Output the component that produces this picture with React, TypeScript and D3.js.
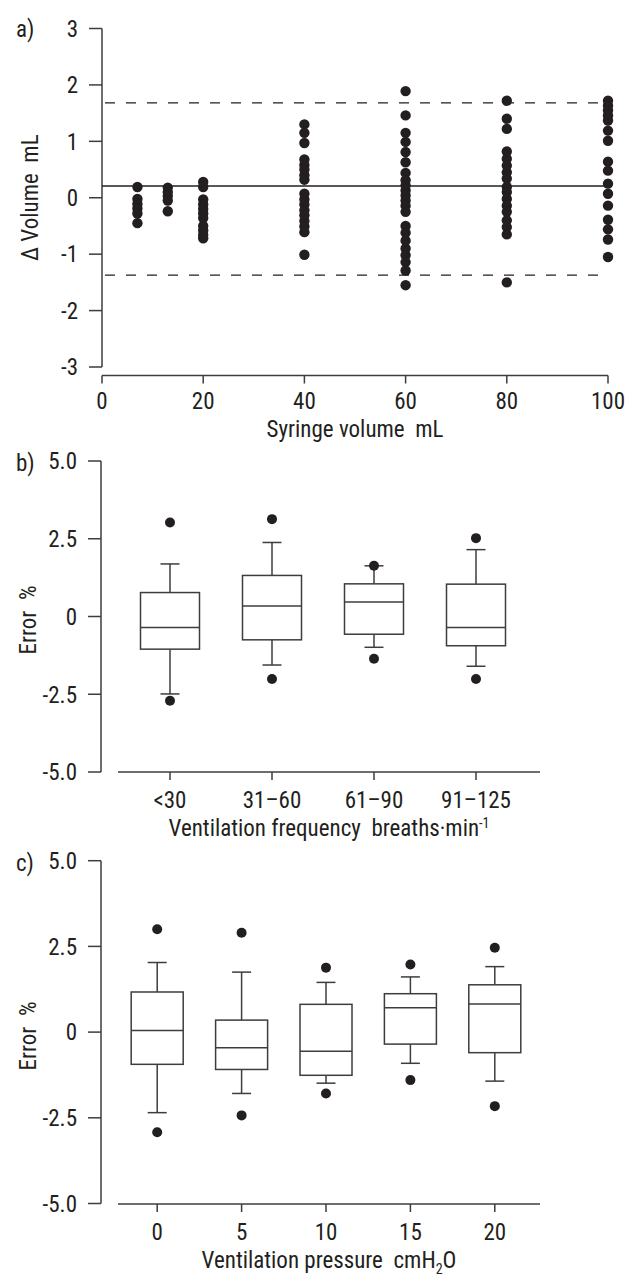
import * as d3 from 'd3'

// panel a: Bland-Altman style differences per syringe volume
const syringeVolumes = [7, 13, 20, 40, 60, 80, 100]
const dv7 = [0.19, -0.02, -0.11, -0.19, -0.28, -0.45]
const dv13 = [0.18, 0.10, 0.03, -0.05, -0.24]
const dv20 = [0.28, 0.19, -0.03, -0.12, -0.20, -0.28, -0.36, -0.50, -0.58, -0.66, -0.72]
const dv40 = [1.30, 1.15, 0.97, 0.68, 0.58, 0.50, 0.40, 0.32, 0.07, -0.03, -0.12, -0.22, -0.31, -0.41, -0.51, -0.61, -1.01]
const dv60 = [1.89, 1.46, 1.15, 0.99, 0.81, 0.63, 0.44, 0.31, 0.22, 0.13, 0.04, -0.05, -0.14, -0.25, -0.50, -0.62, -0.76, -0.90, -1.02, -1.14, -1.29, -1.55]
const dv80 = [1.72, 1.40, 1.22, 0.82, 0.69, 0.57, 0.45, 0.34, 0.19, 0.10, -0.02, -0.14, -0.25, -0.40, -0.52, -0.65, -1.50]
const dv100 = [1.72, 1.63, 1.55, 1.46, 1.37, 1.19, 1.01, 0.64, 0.48, 0.25, 0.07, -0.14, -0.39, -0.56, -0.74, -1.05]
const deltaSeries = [dv7, dv13, dv20, dv40, dv60, dv80, dv100]
const meanDiff = 0.21
const upperLimit = 1.68
const lowerLimit = -1.37
const volumeTicks = [0, 20, 40, 60, 80, 100]
const deltaTicks = [-3, -2, -1, 0, 1, 2, 3]

// panel b: error by ventilation frequency
const freqCategories = ['<30', '31–60', '61–90', '91–125']
const freqQ1 = [-1.05, -0.75, -0.57, -0.94]
const freqMedian = [-0.35, 0.34, 0.47, -0.35]
const freqQ3 = [0.77, 1.32, 1.05, 1.04]
const freqWhiskerLow = [-2.49, -1.56, -0.99, -1.60]
const freqWhiskerHigh = [1.69, 2.38, 1.63, 2.15]
const freqOutlierLow = [-2.71, -2.01, -1.36, -2.01]
const freqOutlierHigh = [3.02, 3.13, 1.63, 2.52]

// panel c: error by ventilation pressure
const pressureCategories = ['0', '5', '10', '15', '20']
const pressQ1 = [-0.94, -1.09, -1.26, -0.35, -0.60]
const pressMedian = [0.05, -0.46, -0.56, 0.71, 0.82]
const pressQ3 = [1.17, 0.35, 0.81, 1.12, 1.38]
const pressWhiskerLow = [-2.35, -1.79, -1.49, -0.91, -1.43]
const pressWhiskerHigh = [2.03, 1.75, 1.45, 1.61, 1.91]
const pressOutlierLow = [-2.92, -2.43, -1.79, -1.40, -2.16]
const pressOutlierHigh = [3.00, 2.90, 1.88, 1.97, 2.46]

const errorTicks = [-5, -2.5, 0, 2.5, 5]
const errorTickLabels = ['-5.0', '-2.5', '0', '2.5', '5.0']

const FONT = "'Liberation Sans Narrow', 'Arial Narrow', 'Roboto Condensed', 'Liberation Sans', sans-serif"
const INK = '#231f20'
const LINE = '#3d3d3d'
const FS = 23
const PRE = { whiteSpace: 'pre' as const }

type BoxStats = { q1: number[], med: number[], q3: number[], wl: number[], wh: number[], ol: number[], oh: number[] }

function YAxis({ y, ticks, labels, x0, top, bottom }: { y: d3.ScaleLinear<number, number>, ticks: number[], labels: string[], x0: number, top: number, bottom: number }){
  return (
    <g>
      <line x1={x0} x2={x0} y1={top} y2={bottom} stroke={LINE} strokeWidth={1.5} />
      {ticks.map((t, i)=> (
        <g key={t}>
          <line x1={x0 - 13} x2={x0} y1={y(t)} y2={y(t)} stroke={LINE} strokeWidth={1.5} />
          <text x={x0 - 24} y={y(t)} dy="0.36em" textAnchor="end" fontSize={FS} fill={INK}>{labels[i]}</text>
        </g>
      ))}
    </g>
  )
}

function BoxPanel({ cats, stats, y, x, boxHalf, axisY, axisX0, axisX1, top, label, title, yTitleY }: {
  cats: string[], stats: BoxStats, y: d3.ScaleLinear<number, number>, x: d3.ScalePoint<string>,
  boxHalf: number, axisY: number, axisX0: number, axisX1: number, top: number, label: string, title: React.ReactNode, yTitleY: number
}){
  const cap = 9.5
  return (
    <g>
      <text x={16} y={top + 10} fontSize={FS} fill={INK}>{label}</text>
      <YAxis y={y} ticks={errorTicks} labels={errorTickLabels} x0={101} top={y(5)} bottom={y(-5)} />
      <text transform={`translate(36,${yTitleY}) rotate(-90)`} textAnchor="middle" fontSize={FS} fill={INK} style={PRE}>Error  %</text>
      <line x1={axisX0} x2={axisX1} y1={axisY} y2={axisY} stroke={LINE} strokeWidth={1.5} />
      {cats.map((c)=> (
        <g key={c}>
          <line x1={x(c)!} x2={x(c)!} y1={axisY} y2={axisY + 8} stroke={LINE} strokeWidth={1.5} />
          <text x={x(c)!} y={axisY + 36} textAnchor="middle" fontSize={FS} fill={INK}>{c}</text>
        </g>
      ))}
      <text x={(axisX0 + axisX1) / 2} y={axisY + 64} textAnchor="middle" fontSize={FS} fill={INK} style={PRE}>{title}</text>
      {cats.map((c, i)=> {
        const cx = x(c)!
        return (
          <g key={c} stroke={LINE} strokeWidth={1.5} fill="none">
            <line x1={cx} x2={cx} y1={y(stats.wh[i])} y2={y(stats.q3[i])} />
            <line x1={cx} x2={cx} y1={y(stats.q1[i])} y2={y(stats.wl[i])} />
            <line x1={cx - cap} x2={cx + cap} y1={y(stats.wh[i])} y2={y(stats.wh[i])} />
            <line x1={cx - cap} x2={cx + cap} y1={y(stats.wl[i])} y2={y(stats.wl[i])} />
            <rect x={cx - boxHalf} width={boxHalf * 2} y={y(stats.q3[i])} height={y(stats.q1[i]) - y(stats.q3[i])} fill="#fff" />
            <line x1={cx - boxHalf} x2={cx + boxHalf} y1={y(stats.med[i])} y2={y(stats.med[i])} />
            <circle cx={cx} cy={y(stats.oh[i])} r={5} fill={INK} stroke="none" />
            <circle cx={cx} cy={y(stats.ol[i])} r={5} fill={INK} stroke="none" />
          </g>
        )
      })}
    </g>
  )
}

export default function App(){
  // panel a scales
  const xa = d3.scaleLinear().domain([0, 100]).range([102, 608])
  const ya = d3.scaleLinear().domain([-3, 3]).range([367, 28.5])

  // panel b scales
  const yb = d3.scaleLinear().domain([-5, 5]).range([772, 461])
  const xb = d3.scalePoint<string>().domain(freqCategories).range([119, 527]).padding(0.5)

  // panel c scales
  const yc = d3.scaleLinear().domain([-5, 5]).range([1203.5, 860.7])
  const xc = d3.scalePoint<string>().domain(pressureCategories).range([115, 537]).padding(0.5)

  const freqStats: BoxStats = { q1: freqQ1, med: freqMedian, q3: freqQ3, wl: freqWhiskerLow, wh: freqWhiskerHigh, ol: freqOutlierLow, oh: freqOutlierHigh }
  const pressStats: BoxStats = { q1: pressQ1, med: pressMedian, q3: pressQ3, wl: pressWhiskerLow, wh: pressWhiskerHigh, ol: pressOutlierLow, oh: pressOutlierHigh }

  const axisA = 375.5

  return (
    <svg width={638} height={1278} style={{ position: 'absolute', left: 0, top: 0, background: '#fff' }} fontFamily={FONT}>
      {/* panel a */}
      <text x={16} y={37} fontSize={FS} fill={INK}>a)</text>
      <YAxis y={ya} ticks={deltaTicks} labels={deltaTicks.map(String)} x0={102} top={ya(3)} bottom={ya(-3)} />
      <text transform={`translate(38,${ya(0)}) rotate(-90)`} textAnchor="middle" fontSize={FS} fill={INK} style={PRE}>Δ Volume  mL</text>
      <line x1={xa(0)} x2={xa(100)} y1={axisA} y2={axisA} stroke={LINE} strokeWidth={1.5} />
      {volumeTicks.map(t=> (
        <g key={t}>
          <line x1={xa(t)} x2={xa(t)} y1={axisA} y2={axisA + 8} stroke={LINE} strokeWidth={1.5} />
          <text x={xa(t)} y={axisA + 33} textAnchor="middle" fontSize={FS} fill={INK}>{t}</text>
        </g>
      ))}
      <text x={(xa(0) + xa(100)) / 2} y={axisA + 61} textAnchor="middle" fontSize={FS} fill={INK} style={PRE}>Syringe volume  mL</text>
      <line x1={xa(0)} x2={xa(100)} y1={ya(meanDiff)} y2={ya(meanDiff)} stroke={INK} strokeWidth={1.5} />
      <line x1={xa(0)} x2={xa(100)} y1={ya(upperLimit)} y2={ya(upperLimit)} stroke={INK} strokeWidth={1.3} strokeDasharray="10 11" strokeDashoffset={-3} />
      <line x1={xa(0)} x2={xa(100)} y1={ya(lowerLimit)} y2={ya(lowerLimit)} stroke={INK} strokeWidth={1.3} strokeDasharray="10 11" strokeDashoffset={-3} />
      {deltaSeries.map((vals, i)=> vals.map((v, j)=> (
        <circle key={`${i}-${j}`} cx={xa(syringeVolumes[i])} cy={ya(v)} r={5.2} fill={INK} />
      )))}

      {/* panel b */}
      <BoxPanel cats={freqCategories} stats={freqStats} y={yb} x={xb} boxHalf={29.5} axisY={772} axisX0={118} axisX1={540}
        top={461} label="b)" yTitleY={620}
        title={<>Ventilation frequency  breaths·min<tspan dy={-8} fontSize={14}>-1</tspan></>} />

      {/* panel c */}
      <BoxPanel cats={pressureCategories} stats={pressStats} y={yc} x={xc} boxHalf={26} axisY={1204} axisX0={118} axisX1={540}
        top={860.7} label="c)" yTitleY={1036}
        title={<>Ventilation pressure  cmH<tspan dy={6} fontSize={14}>2</tspan><tspan dy={-6}>O</tspan></>} />
    </svg>
  )
}
